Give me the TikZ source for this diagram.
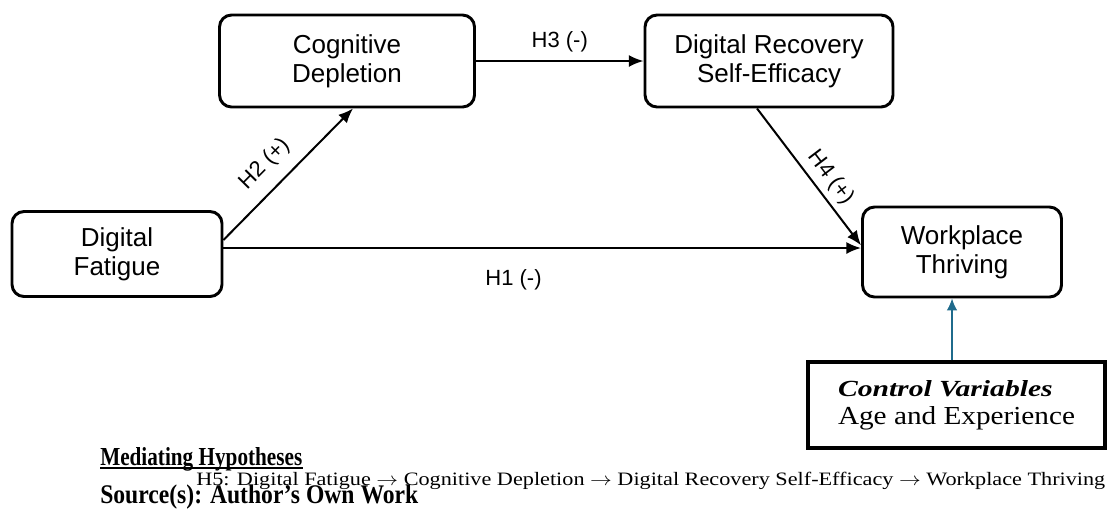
\documentclass[tikz,border=0pt]{standalone}
\usepackage{fontspec}
\usepackage{graphicx}
\setmainfont{Liberation Serif}
\setsansfont{Liberation Sans}
\usetikzlibrary{arrows.meta}
\definecolor{ctlblue}{HTML}{1F6B8C}

\begin{document}
\begin{tikzpicture}[
    x=0.75pt,y=-0.75pt,
    var/.style={rectangle,rounded corners=9pt,draw=black,line width=2.2pt,align=center,inner sep=0pt,
        font=\sffamily\fontsize{19.5}{22}\selectfont},
    path/.style={-{Latex[length=11pt,width=9pt]},line width=1.5pt},
    lbl/.style={font=\sffamily\fontsize{16.5}{18}\selectfont},
    ctl/.style={-{Latex[length=9pt,width=8pt]},draw=ctlblue,line width=1.1pt},
    note/.style={anchor=base west,inner sep=0pt}
]
    \useasboundingbox (0,0) rectangle (1109,522);
    % latent variables
    \node[var,minimum width=191.25pt,minimum height=69pt] (cd) at (347,61) {Cognitive\\Depletion};
    \node[var,minimum width=186pt,minimum height=69pt] (drse) at (769,61) {Digital Recovery\\Self-Efficacy};
    \node[var,minimum width=157.5pt,minimum height=63.75pt] (df) at (117,254) {Digital\\Fatigue};
    \node[var,minimum width=149.25pt,minimum height=67.5pt] (wt) at (962,252) {Workplace\\Thriving};
    \node[rectangle,draw=black,line width=2.6pt,align=left,inner sep=0pt,minimum width=222.75pt,minimum height=64.5pt,
        font=\fontsize{18}{21}\selectfont] (ctrl) at (956.5,405)
        {\resizebox{161pt}{12pt}{\textbf{\textit{Control Variables}}}\\\resizebox{177.75pt}{13.5pt}{Age and Experience}};
    % hypotheses
    \draw[path] (cd) -- node[lbl,above=3pt] (h3) {H3 (-)} (drse);
    \draw[path] ([yshift=10.5pt]df.east) -- node[lbl,sloped,above=6pt,pos=0.45] (h2) {H2 (+)} ([xshift=4.5pt]cd.south);
    \draw[path] ([xshift=-9pt]drse.south) -- node[lbl,sloped,above=1pt,pos=0.58] (h4) {H4 (+)} ([yshift=5pt]wt.west);
    \draw[path] ([yshift=4.5pt]df.east) -- node[lbl,below=12pt,pos=0.455] (h1) {H1 (-)} ([yshift=4.5pt]df.east -| wt.west);
    \draw[ctl] ([xshift=-7.5pt]wt.south |- ctrl.north) -- ([xshift=-7.5pt]wt.south);
    % notes
    \node[note,font=\bfseries\fontsize{20}{22}\selectfont] (med) at (100,465)
        {\resizebox{151.5pt}{13.5pt}{Mediating Hypotheses}};
    \draw[line width=1.3pt] ([yshift=-2.4pt]med.base west) -- ([yshift=-2.4pt]med.base east);
    \node[note,font=\fontsize{14.7}{16}\selectfont] (h5) at (196,485)
        {\resizebox{681.75pt}{10pt}{H5: Digital Fatigue $\rightarrow$ Cognitive Depletion $\rightarrow$ Digital Recovery Self-Efficacy $\rightarrow$ Workplace Thriving}};
    \node[note,font=\bfseries\fontsize{20}{22}\selectfont] (src) at (100,503)
        {\resizebox{238.5pt}{14pt}{Source(s): Author’s Own Work}};
\end{tikzpicture}
\end{document}
